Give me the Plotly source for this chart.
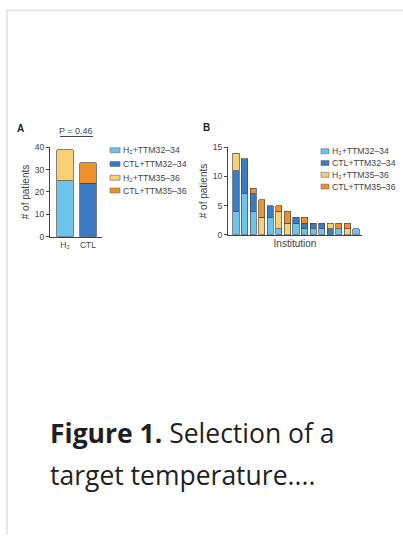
import plotly.graph_objects as go

# ---------------- data ----------------
series_names = ["H₂+TTM32–34", "CTL+TTM32–34", "H₂+TTM35–36", "CTL+TTM35–36"]
series_colors = ["#6CC4EE", "#3A7BC4", "#F9D074", "#EF902B"]

groups_A = ["H₂", "CTL"]
a_h2_ttm32 = [25, 0]
a_ctl_ttm32 = [0, 24]
a_h2_ttm35 = [14, 0]
a_ctl_ttm35 = [0, 9]

institutions = list(range(1, 16))
b_h2_ttm32 = [4, 7, 4, 0, 3, 1, 0, 2, 1, 1, 1, 0, 1, 0, 1]
b_ctl_ttm32 = [7, 6, 3, 0, 2, 0, 0, 1, 1, 1, 1, 1, 0, 0, 0]
b_h2_ttm35 = [3, 0, 0, 3, 0, 3, 2, 0, 0, 0, 0, 1, 0, 1, 0]
b_ctl_ttm35 = [0, 0, 1, 3, 0, 1, 2, 0, 1, 0, 0, 0, 1, 1, 0]

ticks_A = [0, 10, 20, 30, 40]
ticks_B = [0, 5, 10, 15]
p_text = "P = 0.46"

# ---------------- layout helpers ----------------
W, H = 403, 540
def px(x):
    return x / W
def py(y):
    return 1 - y / H

def nz(vals):
    return [v if v else None for v in vals]

fig = go.Figure()
line_col = "#4a4a4a"
for name, col, vals in zip(series_names, series_colors,
                           [a_h2_ttm32, a_ctl_ttm32, a_h2_ttm35, a_ctl_ttm35]):
    fig.add_trace(go.Bar(x=groups_A, y=nz(vals), name=name, marker_color=col,
                         marker_line_color=line_col, marker_line_width=0.7,
                         xaxis="x", yaxis="y", showlegend=False))
for name, col, vals in zip(series_names, series_colors,
                           [b_h2_ttm32, b_ctl_ttm32, b_h2_ttm35, b_ctl_ttm35]):
    fig.add_trace(go.Bar(x=[i - 1 for i in institutions], y=nz(vals), name=name,
                         marker_color=col, marker_line_color=line_col,
                         marker_line_width=0.7, xaxis="x2", yaxis="y2",
                         showlegend=False))

tickfont = dict(family="Liberation Sans, Arial", size=8.5, color="#444")
titlefont = dict(family="Liberation Sans, Arial", size=10, color="#444")
axcommon = dict(showline=True, linecolor="#444", linewidth=1, showgrid=False,
                zeroline=False, tickfont=tickfont)

fig.update_layout(
    width=W, height=H, margin=dict(l=0, r=0, t=0, b=0),
    paper_bgcolor="white", plot_bgcolor="white",
    barmode="stack", bargap=0.27,
    xaxis=dict(domain=[px(50), px(102)], anchor="y", type="category",
               range=[-0.652, 1.609], ticks="", **axcommon),
    yaxis=dict(domain=[py(236), py(145)], anchor="x", range=[0, 40],
               tickvals=ticks_A, ticks="outside", ticklen=3, tickcolor="#444",
               title=dict(text="# of patients", font=titlefont, standoff=3),
               **axcommon),
    xaxis2=dict(domain=[px(228), px(362)], anchor="y2", range=[-0.933, 14.7],
                showticklabels=False, ticks="",
                title=dict(text="Institution", font=titlefont, standoff=5),
                **axcommon),
    yaxis2=dict(domain=[py(234), py(145)], anchor="x2", range=[0, 15],
                tickvals=ticks_B, ticks="outside", ticklen=3, tickcolor="#444",
                title=dict(text="# of patients", font=titlefont, standoff=3),
                **axcommon),
)

shapes = []
annos = []
# page border
shapes.append(dict(type="line", xref="paper", yref="paper", x0=px(6), x1=1,
                   y0=py(5.5), y1=py(5.5), line=dict(color="#e6e6e6", width=2)))
shapes.append(dict(type="line", xref="paper", yref="paper", x0=px(7), x1=px(7),
                   y0=py(5), y1=0, line=dict(color="#e6e6e6", width=2)))

# panel letters
annos.append(dict(text="<b>A</b>", x=px(15), y=py(126), xref="paper", yref="paper",
                  showarrow=False, xanchor="left", yanchor="middle",
                  font=dict(family="Liberation Sans, Arial", size=10, color="#222")))
annos.append(dict(text="<b>B</b>", x=px(201), y=py(125), xref="paper", yref="paper",
                  showarrow=False, xanchor="left", yanchor="middle",
                  font=dict(family="Liberation Sans, Arial", size=10, color="#222")))

# p-value bracket
annos.append(dict(text=p_text, x=0.5, y=py(128), xref="x", yref="paper",
                  showarrow=False, xanchor="center", yanchor="middle",
                  font=dict(family="Liberation Sans, Arial", size=9, color="#444")))
shapes.append(dict(type="line", xref="x", yref="paper", x0=-0.22, x1=1.22,
                   y0=py(134), y1=py(134), line=dict(color="#444", width=1)))

# legends
def legend(sw_x0, sw_x1, text_x, y_rows):
    for name, col, yy in zip(series_names, series_colors, y_rows):
        shapes.append(dict(type="rect", xref="paper", yref="paper",
                           x0=px(sw_x0), x1=px(sw_x1), y0=py(yy + 2.5), y1=py(yy - 2.5),
                           fillcolor=col, line=dict(color="#666", width=0.6)))
        annos.append(dict(text=name, x=px(text_x), y=py(yy), xref="paper", yref="paper",
                          showarrow=False, xanchor="left", yanchor="middle",
                          font=dict(family="Liberation Sans, Arial", size=8.7, color="#444")))

legend(110, 120, 121, [148, 162, 176, 189])
legend(321, 329, 330, [149, 161, 173, 185])

# caption
capfont = dict(family="Open Sans", size=26.5, color="#1f1f1f")
annos.append(dict(text="<b>Figure 1.</b> Selection of a", x=px(48), y=py(436),
                  xref="paper", yref="paper", showarrow=False, xanchor="left",
                  yanchor="middle", font=capfont))
annos.append(dict(text="target temperature....", x=px(48), y=py(479),
                  xref="paper", yref="paper", showarrow=False, xanchor="left",
                  yanchor="middle", font=capfont))

fig.update_layout(shapes=shapes, annotations=annos)
fig.write_html(
    "out.html",
    config={"displayModeBar": False},
    post_script="document.body.style.margin='0';document.body.style.overflow='hidden';",
)
